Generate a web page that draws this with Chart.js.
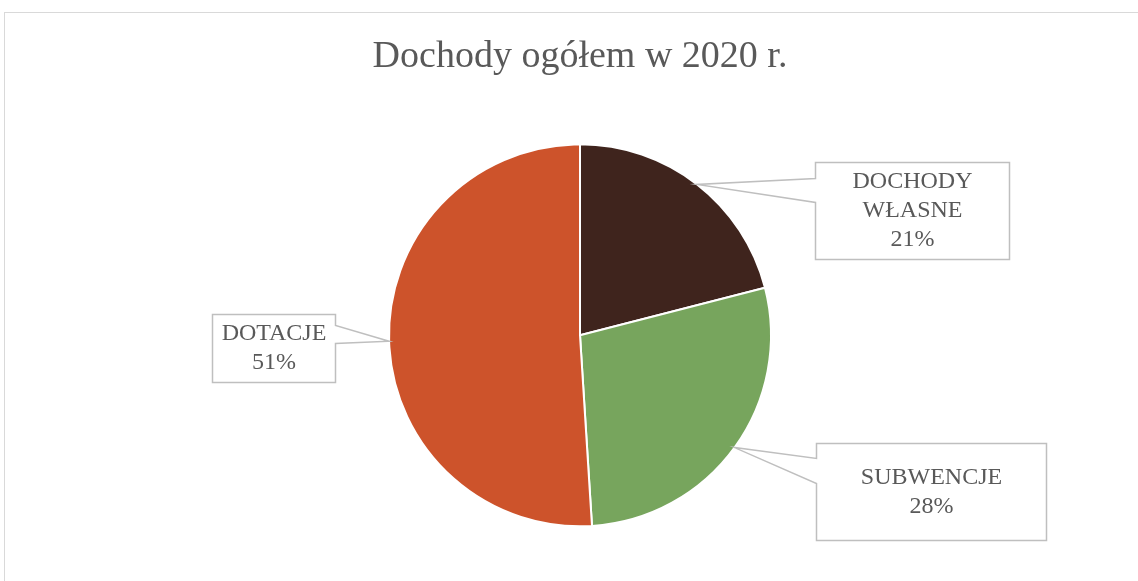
<!DOCTYPE html>
<html>
<head>
<meta charset="utf-8">
<script src="https://cdn.jsdelivr.net/npm/chart.js@4"></script>
<style>
  html, body { margin: 0; padding: 0; background: #fff; overflow: hidden; }
  #frame { position: absolute; left: 4px; top: 12px; width: 1300px; height: 800px; border: 1px solid #d9d9d9; box-sizing: border-box; }
  #wrap { position: absolute; left: 0; top: 0; width: 1138px; height: 581px; }
</style>
</head>
<body>
<div id="frame"></div>
<div id="wrap"><canvas id="pieChart"></canvas></div>
<script>
// dane z wykresu (udział w dochodach ogółem, %)
const categories = [['DOCHODY', 'WŁASNE'], ['SUBWENCJE'], ['DOTACJE']];
const shares = [21, 28, 51];
const sliceColors = ['#3f241d', '#77a55d', '#cd532b'];

// położenie ramek opisów względem środka koła (dx, dy, szer., wys., strona klina, y klina)
const calloutBoxes = [
    { dx: 235, dy: -173, w: 194, h: 97, side: 'left', y1: 16, y2: 40 },
    { dx: 236, dy: 108, w: 230, h: 97, side: 'left', y1: 15, y2: 40 },
    { dx: -368, dy: -21, w: 123, h: 68, side: 'right', y1: 11, y2: 29 }
];

const labelFont = '24px "Liberation Serif", serif';

// rysuje opisy w ramkach z klinem wskazującym na wycinek
const calloutPlugin = {
    id: 'callouts',
    afterDatasetsDraw(chart) {
        const ctx = chart.ctx;
        const meta = chart.getDatasetMeta(0);
        const total = shares.reduce((a, b) => a + b, 0);
        meta.data.forEach(function (arc, i) {
            const mid = (arc.startAngle + arc.endAngle) / 2;
            const tipX = arc.x + Math.cos(mid) * arc.outerRadius;
            const tipY = arc.y + Math.sin(mid) * arc.outerRadius;
            const b = calloutBoxes[i];
            const left = Math.round(arc.x + b.dx) + 0.5;
            const top = Math.round(arc.y + b.dy) + 0.5;
            const right = left + b.w;
            const bottom = top + b.h;

            ctx.save();
            ctx.beginPath();
            ctx.moveTo(left, top);
            ctx.lineTo(right, top);
            if (b.side === 'right') {
                ctx.lineTo(right, top + b.y1);
                ctx.lineTo(tipX, tipY);
                ctx.lineTo(right, top + b.y2);
            }
            ctx.lineTo(right, bottom);
            ctx.lineTo(left, bottom);
            if (b.side === 'left') {
                ctx.lineTo(left, top + b.y2);
                ctx.lineTo(tipX, tipY);
                ctx.lineTo(left, top + b.y1);
            }
            ctx.closePath();
            ctx.fillStyle = '#ffffff';
            ctx.fill();
            ctx.strokeStyle = '#bfbfbf';
            ctx.lineWidth = 1.5;
            ctx.stroke();

            const lines = categories[i].concat([Math.round(shares[i] / total * 100) + '%']);
            const lineH = 29;
            const cx = left + b.w / 2;
            const startY = top + b.h / 2 - (lines.length - 1) * lineH / 2;
            ctx.font = labelFont;
            ctx.fillStyle = '#595959';
            ctx.textAlign = 'center';
            ctx.textBaseline = 'middle';
            lines.forEach(function (t, k) {
                ctx.fillText(t, cx, startY + k * lineH);
            });
            ctx.restore();
        });
    }
};

document.addEventListener('DOMContentLoaded', function () {
    const ctx = document.getElementById('pieChart').getContext('2d');
    new Chart(ctx, {
        type: 'pie',
        data: {
            labels: categories,
            datasets: [{
                data: shares,
                backgroundColor: sliceColors,
                borderColor: '#ffffff',
                borderWidth: 2,
                hoverOffset: 0
            }]
        },
        options: {
            responsive: true,
            maintainAspectRatio: false,
            animation: false,
            radius: 191,
            layout: { padding: { left: 22, right: 0, top: 0, bottom: 10 } },
            plugins: {
                legend: { display: false },
                tooltip: { enabled: false },
                title: {
                    display: true,
                    text: 'Dochody ogółem w 2020 r.',
                    color: '#595959',
                    font: { family: '"Liberation Serif", serif', size: 38, weight: 'normal', lineHeight: 1.2 },
                    padding: { top: 34, bottom: 20 }
                }
            }
        },
        plugins: [calloutPlugin]
    });
});
</script>
</body>
</html>
